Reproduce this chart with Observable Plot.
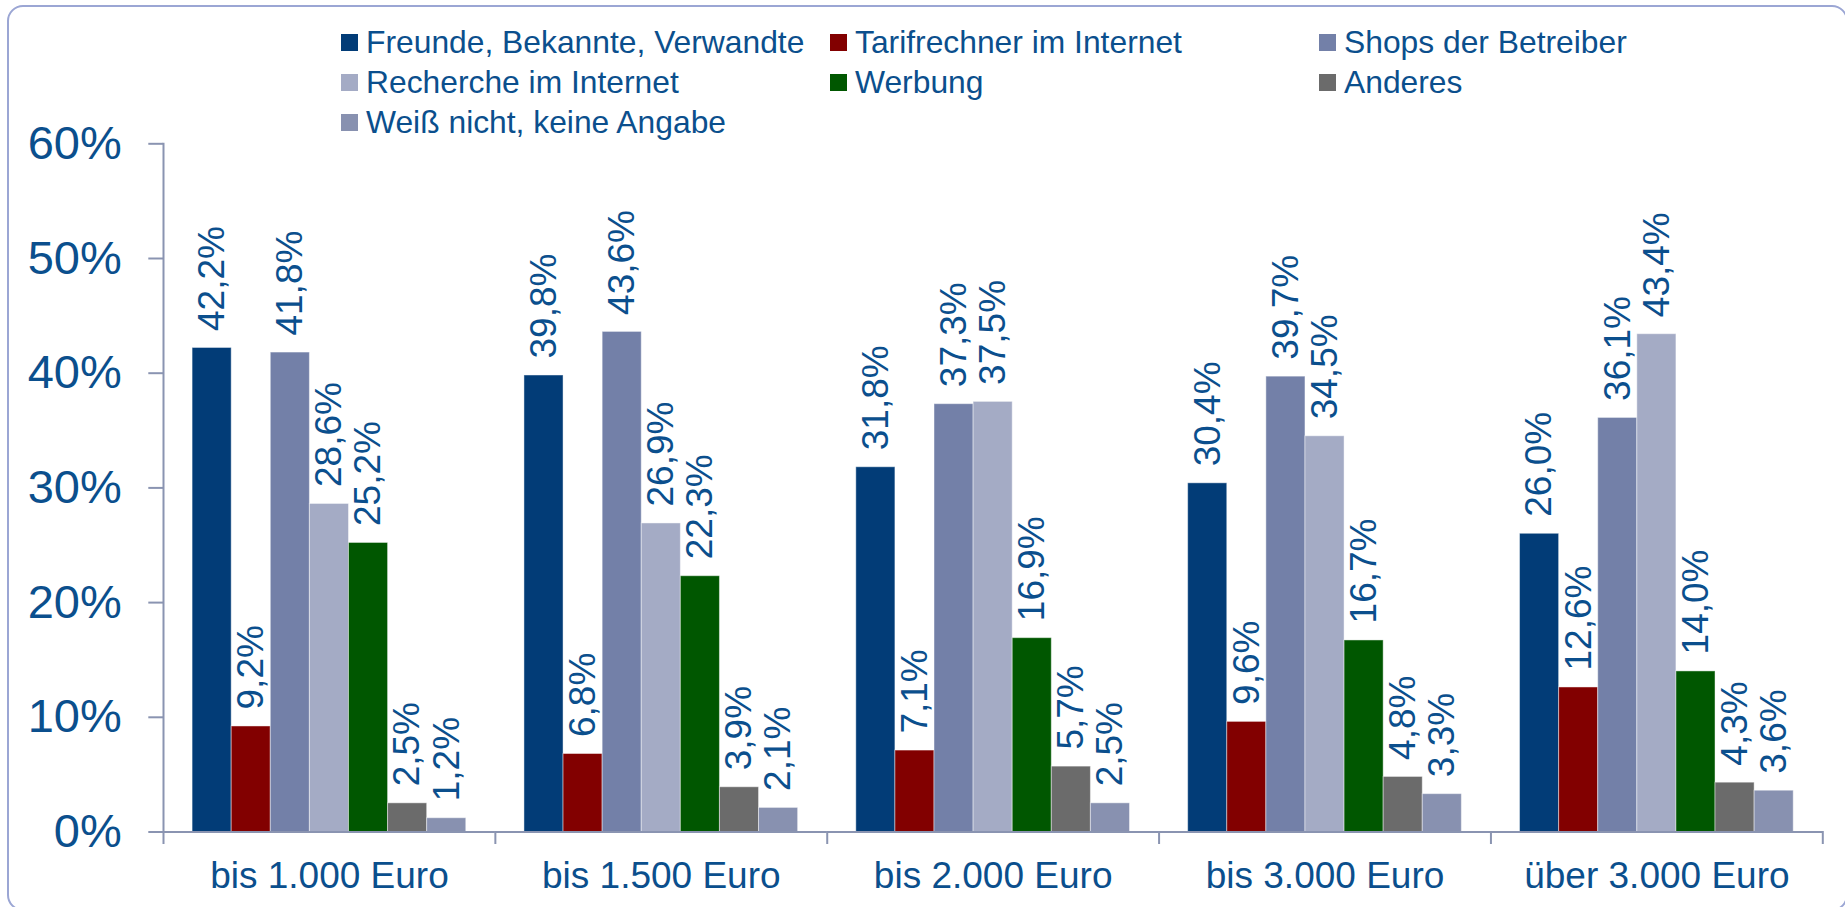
<!DOCTYPE html>
<html>
<head>
<meta charset="utf-8">
<script src="https://cdn.jsdelivr.net/npm/d3@7"></script>
<script src="https://cdn.jsdelivr.net/npm/@observablehq/plot@0.6"></script>
<style>
html, body { margin: 0; padding: 0; background: #fff; overflow: hidden; width: 1845px; height: 907px; }
body { font-family: "Liberation Sans", Arial, sans-serif; }
#frame { position: absolute; left: 7px; top: 5px; width: 1841px; height: 906px; border: 2px solid #9ba6d4; border-radius: 16px; box-sizing: border-box; }
#legend { position: absolute; left: 341px; top: 22px; }
.lg-swatches { display: grid !important; grid-template-columns: repeat(3, 489px); grid-auto-rows: 40px; margin: 0 !important; font-family: "Liberation Sans", Arial, sans-serif !important; font-size: 31.8px !important; color: #0b4f8d; }
.lg-swatch { margin-right: 0 !important; display: flex !important; align-items: center; white-space: nowrap; }
.lg-swatch > svg { margin-right: 8px !important; }
#chart { position: absolute; left: 0; top: 124px; }
</style>
</head>
<body>
<div id="frame"></div>
<div id="legend"></div>
<div id="chart"></div>
<script>
// Categories (x groups)
const categories = ["bis 1.000 Euro", "bis 1.500 Euro", "bis 2.000 Euro", "bis 3.000 Euro", "über 3.000 Euro"];
// Series (legend order)
const series = ["Freunde, Bekannte, Verwandte", "Tarifrechner im Internet", "Shops der Betreiber",
                "Recherche im Internet", "Werbung", "Anderes", "Weiß nicht, keine Angabe"];
const seriesColors = ["#023c77", "#820000", "#7380a8", "#a4abc5", "#005700", "#6b6b6b", "#8891b0"];
// Values (%) per category, in series order
const bis1000 = [42.2, 9.2, 41.8, 28.6, 25.2, 2.5, 1.2];
const bis1500 = [39.8, 6.8, 43.6, 26.9, 22.3, 3.9, 2.1];
const bis2000 = [31.8, 7.1, 37.3, 37.5, 16.9, 5.7, 2.5];
const bis3000 = [30.4, 9.6, 39.7, 34.5, 16.7, 4.8, 3.3];
const ueber3000 = [26.0, 12.6, 36.1, 43.4, 14.0, 4.3, 3.6];
const yTicks = [0, 10, 20, 30, 40, 50, 60];

const groups = [bis1000, bis1500, bis2000, bis3000, ueber3000];
const data = categories.flatMap((cat, i) => groups[i].map((v, j) => ({cat, series: series[j], value: v})));

const textColor = "#0b4f8d";
const axisColor = "#8a94b1";
const fontFamily = "'Liberation Sans', Arial, sans-serif";
const fmt = v => v.toFixed(1).replace(".", ",") + "%";

const W = 1845, H = 783, mT = 19.3, mB = 75.5, mL = 163, mR = 22.7;

const plot = Plot.plot({
  width: W, height: H,
  marginTop: mT, marginBottom: mB, marginLeft: mL, marginRight: mR,
  style: {fontFamily, color: textColor, background: "transparent", overflow: "visible"},
  fx: {domain: categories, padding: 0, round: false, label: null},
  x: {domain: series, paddingInner: 0, paddingOuter: 0.744, round: false, axis: null},
  y: {domain: [0, 60], label: null},
  color: {domain: series, range: seriesColors},
  marks: [
    Plot.barY(data, {fx: "cat", x: "series", y: "value", fill: "series",
      stroke: "#ffffff", strokeOpacity: 0.45, strokeWidth: 1}),
    Plot.text(data, {fx: "cat", x: "series", y: "value", text: d => fmt(d.value),
      rotate: -90, textAnchor: "start", dy: -17, fontSize: 37, fill: textColor}),
    Plot.ruleY([0], {stroke: axisColor, strokeWidth: 2}),
    Plot.frame({anchor: "left", facetAnchor: "left", stroke: axisColor, strokeWidth: 2, insetBottom: -11}),
    Plot.frame({anchor: "right", stroke: axisColor, strokeWidth: 2, insetTop: H - mT - mB, insetBottom: -11}),
    Plot.axisY(yTicks, {tickSize: 14.7, tickPadding: 27, tickFormat: d => d + "%", fontSize: 47,
      stroke: axisColor, strokeWidth: 2, fill: textColor, label: null}),
    Plot.axisFx({anchor: "bottom", tickSize: 0, tickPadding: 30, fontSize: 37, fill: textColor, label: null})
  ]
});
document.getElementById("chart").appendChild(plot);

const legend = plot.legend("color", {className: "lg", swatchSize: 17});
document.getElementById("legend").appendChild(legend);
</script>
</body>
</html>
